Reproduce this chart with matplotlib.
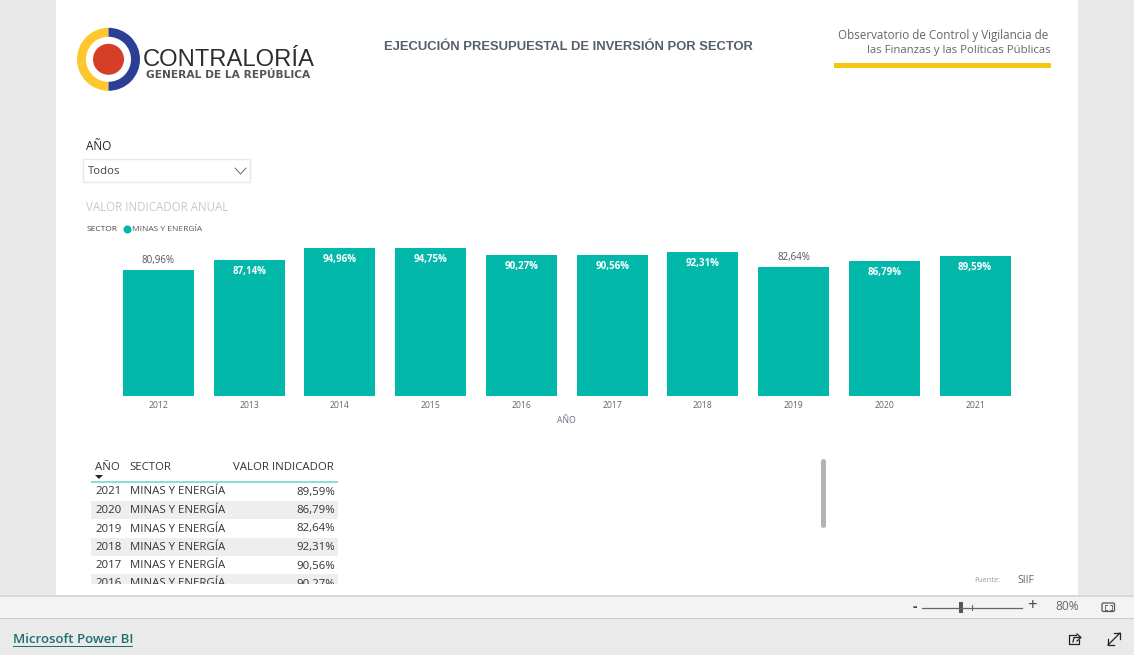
import numpy as np
import matplotlib
matplotlib.use("Agg")
import matplotlib.pyplot as plt
from matplotlib.patches import Rectangle, Circle, Wedge, FancyBboxPatch

W, H = 1134, 655
FONT = "Open Sans"
TEAL = "#01b8aa"

years = ["2012", "2013", "2014", "2015", "2016", "2017", "2018", "2019", "2020", "2021"]
values = [80.96, 87.14, 94.96, 94.75, 90.27, 90.56, 92.31, 82.64, 86.79, 89.59]
# these two labels sit above the bar, the rest inside it
labels_outside = ["2012", "2019"]
table_years = ["2021", "2020", "2019", "2018", "2017", "2016"]
sector = "MINAS Y ENERGÍA"


def pct(v):
    return f"{v:.2f}%".replace(".", ",")


plt.rcParams["font.family"] = [FONT, "DejaVu Sans"]
fig = plt.figure(figsize=(W / 100, H / 100), dpi=100, facecolor="#e9e9e9")

# page layer in pixel coords, y going down
bg = fig.add_axes([0, 0, 1, 1])
bg.set_xlim(0, W)
bg.set_ylim(H, 0)
bg.axis("off")


def box(x0, y0, x1, y1, color, **kw):
    r = Rectangle((x0, y0), x1 - x0, y1 - y0, facecolor=color, edgecolor="none", **kw)
    bg.add_patch(r)
    return r


def txt(x, y, s, size=8.5, color="#333333", ha="left", **kw):
    return bg.text(x, y, s, fontsize=size, color=color, ha=ha, va="center", **kw)


def line(xs, ys, color="#222222", lw=0.9, **kw):
    bg.plot(xs, ys, color=color, lw=lw, **kw)


box(56, 0, 1078, 596, "white")
box(0, 596, W, 618, "#f3f3f3")
box(0, 595, W, 596.5, "#d8d8d8")
box(0, 617.5, W, 619, "#cccccc")
box(0, 619, W, H, "#eaeaea")

# logo
cx, cy = 108.5, 59.3
bg.add_patch(Wedge((cx, cy), 31.5, 90, 270, width=9, facecolor="#fdc82f", edgecolor="none"))
bg.add_patch(Wedge((cx, cy), 31.5, 270, 90, width=9, facecolor="#2b3f94", edgecolor="none"))
bg.add_patch(Circle((cx, cy), 15.5, facecolor="#d63e27", edgecolor="none"))
txt(143, 59.5, "CONTRALORÍA", size=17.1, color="#2d2d2d", family="Liberation Sans")
txt(146, 75, "GENERAL DE LA REPÚBLICA", size=7.7, color="#555555",
    family="DejaVu Sans", fontweight="bold")

txt(568.5, 46.5, "EJECUCIÓN PRESUPUESTAL DE INVERSIÓN POR SECTOR", size=9.4, color="#555f69",
    ha="center", family="Liberation Sans", fontweight="bold")
txt(1048, 35, "Observatorio de Control y Vigilancia de", size=8.4, color="#666666", ha="right")
txt(1051, 51, "las Finanzas y las Políticas Públicas", size=8.2, color="#666666", ha="right")
box(834, 63, 1051, 68, "#f2c811")

# slicer
txt(86, 146, "AÑO", size=8.5, color="#222222")
bg.add_patch(Rectangle((83, 159), 167, 23, facecolor="white", edgecolor="#e8e8e8", lw=1))
txt(88, 171.5, "Todos", size=8.2, color="#444444")
line([235, 240.5, 246], [168, 174, 168], color="#555555", lw=0.6)

txt(86, 207.5, "VALOR INDICADOR ANUAL", size=8.3, color="#c8c8c8")
txt(87, 229.5, "SECTOR", size=6, color="#444444")
bg.add_patch(Circle((127.5, 229.5), 4, facecolor=TEAL, edgecolor="none"))
txt(132, 229.5, sector, size=6, color="#555555")

# bar chart: 0 sits on y=396, about 1.56 px per percent
ax_left, ax_right = 113, 1020.5
ax_top, ax_bottom = 240, 396
ax = fig.add_axes([ax_left / W, 1 - ax_bottom / H, (ax_right - ax_left) / W, (ax_bottom - ax_top) / H])
ax.patch.set_alpha(0)
x = np.arange(len(years))
ax.bar(x, values, width=0.785, color=TEAL)
ax.set_xlim(-0.5, len(years) - 0.5)
ax.set_ylim(0, 100)
ax.set_yticks([])
ax.set_xticks(x)
ax.set_xticklabels(years, fontsize=6.2, color="#666666")
ax.tick_params(axis="x", length=0, pad=3.5)
for s in ax.spines.values():
    s.set_visible(False)
ax.set_xlabel("AÑO", fontsize=6.2, color="#6b6b85", labelpad=4.5)

for xi, yr, v in zip(x, years, values):
    if yr in labels_outside:
        ax.annotate(pct(v), (xi, v), xytext=(0, 3), textcoords="offset points",
                    ha="center", va="bottom", fontsize=7, color="#555555")
    else:
        ax.annotate(pct(v), (xi, v), xytext=(0, -4.5), textcoords="offset points",
                    ha="center", va="top", fontsize=7, color="white", fontweight="bold")

# table
table_rows = [491, 509.5, 528, 546.5, 565, 583]
clip = Rectangle((90, 450), 250, 134, transform=bg.transData)
txt(95, 467, "AÑO", size=8.2)
txt(129.5, 467, "SECTOR", size=8.2)
txt(334, 467, "VALOR INDICADOR", size=8.2, ha="right")
bg.fill([95, 103, 99], [475, 475, 479], color="#222222", lw=0)
box(91, 481.3, 338, 483.2, "#8fdcd5")
for i, (yr, ry) in enumerate(zip(table_years, table_rows)):
    if i % 2 == 1:
        box(91, ry - 9, 338, min(ry + 9.5, 584), "#eeeeee")
    v = values[years.index(yr)]
    ty = ry + 1
    for t in (txt(95, ty, yr, size=8.2), txt(129.5, ty, sector, size=8.2), txt(335, ty, pct(v), size=8.2, ha="right")):
        t.set_clip_path(clip)
        t.set_clip_on(True)

# scroll bar
line([822.5, 822.5], [460.5, 524.5], color="#b3b3b3", lw=3.6, solid_capstyle="round")

txt(974, 580.5, "Fuente:", size=5.4, color="#999999")
txt(1017, 580.5, "SIIF", size=7.6, color="#666666")

# zoom bar
txt(915, 606.5, "-", size=10, color="#444444", ha="center", fontweight="bold")
line([922, 1022], [607.5, 607.5], color="#666666")
line([972, 972], [605, 610], color="#666666", lw=0.8)
box(959, 602, 963, 613, "#555555")
txt(1032, 606, "+", size=12, color="#444444", ha="center")
txt(1067, 606.5, "80%", size=8.6, color="#666666", ha="center")
bg.add_patch(FancyBboxPatch((1102, 603), 12.5, 8.5, boxstyle="round,pad=0,rounding_size=1.5",
                            facecolor="none", edgecolor="#555555", lw=0.9))
for px, py, sx, sy in [(1104.5, 605, 1, 1), (1112, 605, -1, 1), (1104.5, 609.5, 1, -1), (1112, 609.5, -1, -1)]:
    line([px, px, px + 2 * sx], [py + 1.5 * sy, py, py], color="#555555", lw=0.6)

# footer
txt(13, 639.5, "Microsoft Power BI", size=9.5, color="#1c6e75", fontweight="semibold")
box(13, 645.5, 133, 646.7, "#1c6e75")
# share icon
line([1076, 1069, 1069, 1079, 1079], [635, 635, 644, 644, 640])
line([1073, 1074, 1080], [642, 637.5, 637.5])
line([1077, 1081, 1077], [634, 637.5, 641])
# expand icon
line([1108, 1120], [645, 633])
line([1114, 1120, 1120], [633, 633, 639])
line([1108, 1108, 1114], [639, 645, 645])

fig.savefig("out.png", dpi=100, facecolor=fig.get_facecolor())
